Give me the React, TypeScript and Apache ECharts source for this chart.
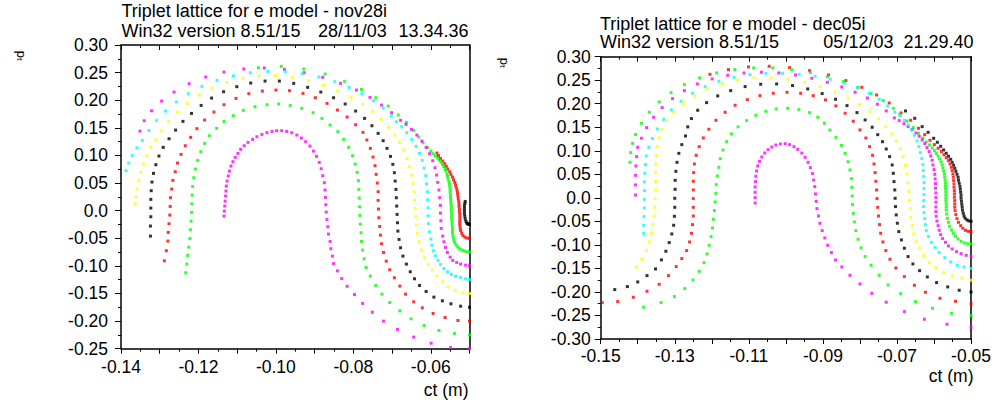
import React, { useEffect, useRef } from "react";
import * as echarts from "echarts";

// ---------- Left panel (nov28i): trajectories in (ct, pt), named by starting pt ----------
const nov_p025 = [[-0.050,-0.025],[-0.0501,-0.0249],[-0.0503,-0.0243],[-0.0505,-0.0236],[-0.0507,-0.0225],[-0.0509,-0.0195],[-0.0511,-0.0153],[-0.0512,-0.0105],[-0.0513,-0.0056],[-0.0513,-0.0008],[-0.0513,0.0040],[-0.0513,0.0089],[-0.0512,0.0131],[-0.0511,0.0167]];
const nov_p050 = [[-0.050,-0.050],[-0.0506,-0.0497],[-0.0512,-0.0479],[-0.0517,-0.0449],[-0.0520,-0.0407],[-0.0523,-0.0358],[-0.0524,-0.0310],[-0.0525,-0.0262],[-0.0525,-0.0213],[-0.0525,-0.0165],[-0.0525,-0.0117],[-0.0525,-0.0068],[-0.0526,-0.0020],[-0.0526,0.0028],[-0.0527,0.0077],[-0.0527,0.0125],[-0.0528,0.0173],[-0.0529,0.0222],[-0.0530,0.0270],[-0.0531,0.0318],[-0.0532,0.0367],[-0.0534,0.0415],[-0.0536,0.0463],[-0.0538,0.0512],[-0.0541,0.0560],[-0.0544,0.0608],[-0.0548,0.0657],[-0.0551,0.0705],[-0.0556,0.0753],[-0.0560,0.0802],[-0.0564,0.0850],[-0.0569,0.0898],[-0.0575,0.0946],[-0.0580,0.0995],[-0.0584,0.1043]];
const nov_p075 = [[-0.050,-0.075],[-0.0506,-0.0745],[-0.0513,-0.0733],[-0.0519,-0.0715],[-0.0525,-0.0691],[-0.0530,-0.0660],[-0.0534,-0.0624],[-0.0538,-0.0582],[-0.0540,-0.0540],[-0.0542,-0.0491],[-0.0543,-0.0443],[-0.0544,-0.0394],[-0.0544,-0.0346],[-0.0544,-0.0298],[-0.0545,-0.0250],[-0.0545,-0.0201],[-0.0546,-0.0153],[-0.0546,-0.0105],[-0.0546,-0.0056],[-0.0547,-0.0008],[-0.0547,0.0040],[-0.0547,0.0089],[-0.0548,0.0137],[-0.0548,0.0185],[-0.0549,0.0234],[-0.0549,0.0282],[-0.0550,0.0330],[-0.0550,0.0379],[-0.0551,0.0427],[-0.0552,0.0475],[-0.0553,0.0524],[-0.0555,0.0572],[-0.0557,0.0620],[-0.0558,0.0669],[-0.0561,0.0717],[-0.0563,0.0759],[-0.0567,0.0802],[-0.0570,0.0844],[-0.0574,0.0880],[-0.0578,0.0916],[-0.0582,0.0953],[-0.0588,0.0989],[-0.0594,0.1031],[-0.0600,0.1079],[-0.0609,0.1140],[-0.0620,0.1230],[-0.0631,0.1333],[-0.0644,0.1454],[-0.0663,0.1599],[-0.0684,0.1732],[-0.0710,0.1894],[-0.0742,0.2045],[-0.0779,0.2196],[-0.0823,0.2341],[-0.0873,0.2474],[-0.0928,0.2565],[-0.0986,0.2613],[-0.1045,0.2589]];
const nov_p100 = [[-0.050,-0.100],[-0.0510,-0.0987],[-0.0523,-0.0968],[-0.0533,-0.0938],[-0.0543,-0.0902],[-0.0550,-0.0842],[-0.0557,-0.0757],[-0.0562,-0.0666],[-0.0566,-0.0564],[-0.0569,-0.0461],[-0.0573,-0.0322],[-0.0574,-0.0183],[-0.0575,-0.0044],[-0.0575,0.0095],[-0.0577,0.0234],[-0.0579,0.0373],[-0.0582,0.0512],[-0.0585,0.0644],[-0.0589,0.0777],[-0.0595,0.0904],[-0.0603,0.1031],[-0.0612,0.1146],[-0.0623,0.1260],[-0.0636,0.1369],[-0.0650,0.1472],[-0.0664,0.1562],[-0.0678,0.1635],[-0.0701,0.1774],[-0.0727,0.1912],[-0.0757,0.2051],[-0.0792,0.2184],[-0.0833,0.2305],[-0.0879,0.2414],[-0.0927,0.2498],[-0.0978,0.2559],[-0.1030,0.2583],[-0.1083,0.2565],[-0.1134,0.2510],[-0.1181,0.2420],[-0.1224,0.2299],[-0.1263,0.2148],[-0.1295,0.1985],[-0.1321,0.1810],[-0.1340,0.1628],[-0.1351,0.1441]];
const nov_p125 = [[-0.050,-0.125],[-0.0510,-0.1234],[-0.0523,-0.1210],[-0.0536,-0.1186],[-0.0547,-0.1156],[-0.0557,-0.1107],[-0.0566,-0.1047],[-0.0575,-0.0975],[-0.0581,-0.0902],[-0.0588,-0.0817],[-0.0593,-0.0727],[-0.0597,-0.0624],[-0.0600,-0.0515],[-0.0604,-0.0382],[-0.0606,-0.0237],[-0.0607,-0.0092],[-0.0607,0.0053],[-0.0608,0.0197],[-0.0609,0.0342],[-0.0611,0.0487],[-0.0613,0.0632],[-0.0617,0.0771],[-0.0622,0.0910],[-0.0629,0.1037],[-0.0638,0.1164],[-0.0649,0.1291],[-0.0662,0.1411],[-0.0675,0.1520],[-0.0689,0.1611],[-0.0702,0.1719],[-0.0723,0.1858],[-0.0748,0.1991],[-0.0778,0.2118],[-0.0811,0.2232],[-0.0848,0.2335],[-0.0889,0.2420],[-0.0932,0.2480],[-0.0976,0.2516],[-0.1021,0.2522],[-0.1066,0.2498],[-0.1110,0.2444],[-0.1152,0.2359],[-0.1191,0.2251],[-0.1226,0.2118],[-0.1257,0.1967],[-0.1285,0.1804],[-0.1308,0.1635],[-0.1328,0.1453],[-0.1345,0.1272],[-0.1359,0.1140],[-0.1371,0.1001],[-0.1380,0.0862],[-0.1387,0.0723]];
const nov_p150 = [[-0.050,-0.150],[-0.0517,-0.1488],[-0.0537,-0.1446],[-0.0555,-0.1379],[-0.0569,-0.1289],[-0.0584,-0.1186],[-0.0596,-0.1077],[-0.0607,-0.0975],[-0.0616,-0.0853],[-0.0624,-0.0714],[-0.0630,-0.0563],[-0.0635,-0.0412],[-0.0637,-0.0261],[-0.0639,-0.0110],[-0.0640,0.0041],[-0.0642,0.0192],[-0.0643,0.0343],[-0.0646,0.0494],[-0.0649,0.0645],[-0.0655,0.0796],[-0.0661,0.0947],[-0.0670,0.1098],[-0.0681,0.1237],[-0.0693,0.1369],[-0.0709,0.1508],[-0.0728,0.1653],[-0.0750,0.1792],[-0.0776,0.1925],[-0.0806,0.2051],[-0.0840,0.2166],[-0.0877,0.2269],[-0.0916,0.2353],[-0.0958,0.2414],[-0.1001,0.2444],[-0.1044,0.2438],[-0.1086,0.2396],[-0.1127,0.2323],[-0.1165,0.2220],[-0.1198,0.2094],[-0.1229,0.1943],[-0.1254,0.1786],[-0.1277,0.1617],[-0.1295,0.1447],[-0.1310,0.1284],[-0.1323,0.1146],[-0.1334,0.0995],[-0.1342,0.0844],[-0.1349,0.0693],[-0.1354,0.0542],[-0.1359,0.0391],[-0.1361,0.0252],[-0.1363,0.0119]];
const nov_p175 = [[-0.050,-0.175],[-0.0523,-0.1730],[-0.0548,-0.1687],[-0.0570,-0.1633],[-0.0592,-0.1566],[-0.0612,-0.1464],[-0.0629,-0.1355],[-0.0642,-0.1234],[-0.0653,-0.1107],[-0.0663,-0.0968],[-0.0672,-0.0823],[-0.0678,-0.0672],[-0.0682,-0.0521],[-0.0685,-0.0370],[-0.0686,-0.0219],[-0.0687,-0.0068],[-0.0688,0.0083],[-0.0689,0.0234],[-0.0690,0.0385],[-0.0692,0.0536],[-0.0694,0.0687],[-0.0698,0.0838],[-0.0704,0.0983],[-0.0713,0.1128],[-0.0723,0.1267],[-0.0736,0.1400],[-0.0752,0.1538],[-0.0771,0.1671],[-0.0794,0.1804],[-0.0821,0.1931],[-0.0851,0.2045],[-0.0884,0.2148],[-0.0918,0.2233],[-0.0954,0.2305],[-0.0991,0.2347],[-0.1028,0.2347],[-0.1065,0.2311],[-0.1101,0.2245],[-0.1135,0.2154],[-0.1166,0.2039],[-0.1193,0.1906],[-0.1218,0.1761],[-0.1240,0.1617],[-0.1259,0.1459],[-0.1276,0.1302],[-0.1291,0.1146],[-0.1302,0.0989],[-0.1310,0.0832],[-0.1316,0.0675],[-0.1320,0.0518],[-0.1322,0.0361],[-0.1323,0.0204],[-0.1323,0.0047],[-0.1323,-0.0110],[-0.1324,-0.0279],[-0.1324,-0.0461]];
const nov_p200 = [[-0.050,-0.200],[-0.0530,-0.1989],[-0.0563,-0.1935],[-0.0594,-0.1862],[-0.0622,-0.1760],[-0.0644,-0.1651],[-0.0665,-0.1512],[-0.0680,-0.1367],[-0.0694,-0.1216],[-0.0706,-0.1071],[-0.0715,-0.0914],[-0.0722,-0.0757],[-0.0727,-0.0600],[-0.0730,-0.0443],[-0.0732,-0.0286],[-0.0734,-0.0129],[-0.0735,0.0029],[-0.0736,0.0186],[-0.0736,0.0343],[-0.0738,0.0500],[-0.0741,0.0657],[-0.0744,0.0814],[-0.0749,0.0971],[-0.0756,0.1128],[-0.0765,0.1279],[-0.0775,0.1418],[-0.0794,0.1556],[-0.0816,0.1695],[-0.0841,0.1822],[-0.0868,0.1943],[-0.0898,0.2045],[-0.0930,0.2124],[-0.0965,0.2172],[-0.1000,0.2184],[-0.1035,0.2166],[-0.1070,0.2118],[-0.1103,0.2033],[-0.1134,0.1919],[-0.1160,0.1786],[-0.1184,0.1641],[-0.1204,0.1484],[-0.1220,0.1327],[-0.1234,0.1176],[-0.1245,0.1019],[-0.1254,0.0862],[-0.1260,0.0705],[-0.1266,0.0548],[-0.1269,0.0391],[-0.1272,0.0234],[-0.1273,0.0077],[-0.1274,-0.0080],[-0.1276,-0.0237],[-0.1278,-0.0394],[-0.1279,-0.0551],[-0.1283,-0.0726],[-0.1288,-0.0908]];
const nov_p225 = [[-0.050,-0.225],[-0.0539,-0.2225],[-0.0579,-0.2170],[-0.0617,-0.2080],[-0.0651,-0.1959],[-0.0680,-0.1814],[-0.0706,-0.1663],[-0.0726,-0.1512],[-0.0742,-0.1355],[-0.0756,-0.1186],[-0.0767,-0.1029],[-0.0772,-0.0871],[-0.0776,-0.0714],[-0.0779,-0.0557],[-0.0780,-0.0400],[-0.0782,-0.0243],[-0.0783,-0.0086],[-0.0784,0.0071],[-0.0785,0.0228],[-0.0786,0.0385],[-0.0787,0.0542],[-0.0790,0.0693],[-0.0795,0.0844],[-0.0802,0.0995],[-0.0812,0.1146],[-0.0825,0.1291],[-0.0840,0.1430],[-0.0860,0.1550],[-0.0881,0.1671],[-0.0904,0.1774],[-0.0933,0.1852],[-0.0963,0.1906],[-0.0993,0.1931],[-0.1023,0.1919],[-0.1054,0.1882],[-0.1084,0.1816],[-0.1110,0.1719],[-0.1134,0.1617],[-0.1153,0.1490],[-0.1172,0.1357],[-0.1184,0.1218],[-0.1194,0.1067],[-0.1202,0.0910],[-0.1208,0.0753],[-0.1212,0.0596],[-0.1215,0.0439],[-0.1216,0.0282],[-0.1217,0.0125],[-0.1218,-0.0032],[-0.1219,-0.0189],[-0.1221,-0.0346],[-0.1222,-0.0503],[-0.1225,-0.0660],[-0.1228,-0.0811],[-0.1230,-0.0968],[-0.1233,-0.1125]];
const nov_p250 = [[-0.050,-0.250],[-0.0549,-0.248],[-0.0599,-0.240],[-0.0644,-0.229],[-0.0686,-0.215],[-0.0722,-0.200],[-0.0751,-0.184],[-0.0776,-0.168],[-0.0797,-0.152],[-0.0816,-0.137],[-0.0830,-0.123],[-0.0841,-0.109],[-0.0851,-0.096],[-0.0854,-0.0823],[-0.0858,-0.0690],[-0.0860,-0.0557],[-0.0864,-0.0424],[-0.0866,-0.0292],[-0.0868,-0.0159],[-0.0870,-0.0026],[-0.0871,0.0107],[-0.0872,0.0240],[-0.0873,0.0373],[-0.0875,0.0506],[-0.0879,0.0633],[-0.0883,0.0759],[-0.0888,0.0874],[-0.0895,0.0983],[-0.0903,0.1079],[-0.0912,0.1170],[-0.0923,0.1249],[-0.0934,0.1315],[-0.0946,0.1369],[-0.0959,0.1412],[-0.0972,0.1436],[-0.0985,0.1448],[-0.0998,0.1448],[-0.1010,0.1436],[-0.1023,0.1412],[-0.1036,0.1381],[-0.1049,0.1339],[-0.1060,0.1291],[-0.1072,0.1237],[-0.1082,0.1176],[-0.1091,0.1110],[-0.1098,0.1037],[-0.1105,0.0965],[-0.1111,0.0886],[-0.1116,0.0808],[-0.1120,0.0717],[-0.1123,0.0627],[-0.1126,0.0536],[-0.1128,0.0445],[-0.1129,0.0355],[-0.1130,0.0264],[-0.1131,0.0173],[-0.1132,0.0083],[-0.1133,-0.0008],[-0.1134,-0.0098]];

// ---------- Right panel (dec05i) ----------
const dec_p050 = [[-0.050,-0.050],[-0.0506,-0.0490],[-0.0511,-0.0469],[-0.0516,-0.0433],[-0.0519,-0.0384],[-0.0521,-0.0327],[-0.0523,-0.0263],[-0.0524,-0.0199],[-0.0525,-0.0136],[-0.0526,-0.0072],[-0.0527,-0.0008],[-0.0527,0.0055],[-0.0528,0.0119],[-0.0529,0.0183],[-0.0530,0.0246],[-0.0532,0.0310],[-0.0534,0.0374],[-0.0535,0.0438],[-0.0538,0.0501],[-0.0541,0.0565],[-0.0544,0.0629],[-0.0547,0.0693],[-0.0551,0.0756],[-0.0555,0.0820],[-0.0561,0.0884],[-0.0567,0.0947],[-0.0574,0.1018],[-0.0582,0.1096],[-0.0591,0.1181],[-0.0601,0.1266],[-0.0616,0.1393],[-0.0632,0.1514],[-0.0652,0.1691],[-0.0677,0.1847]];
const dec_p075 = [[-0.050,-0.072],[-0.0507,-0.0711],[-0.0515,-0.0690],[-0.0522,-0.0647],[-0.0528,-0.0591],[-0.0534,-0.0520],[-0.0538,-0.0442],[-0.0541,-0.0357],[-0.0543,-0.0272],[-0.0544,-0.0199],[-0.0544,-0.0129],[-0.0544,-0.0058],[-0.0545,0.0013],[-0.0545,0.0084],[-0.0545,0.0154],[-0.0546,0.0225],[-0.0546,0.0296],[-0.0547,0.0367],[-0.0548,0.0438],[-0.0549,0.0508],[-0.0551,0.0579],[-0.0553,0.0650],[-0.0557,0.0721],[-0.0561,0.0792],[-0.0567,0.0855],[-0.0573,0.0919],[-0.0580,0.0983],[-0.0589,0.1054],[-0.0599,0.1131],[-0.0611,0.1224],[-0.0625,0.1344],[-0.0642,0.1479],[-0.0663,0.1648],[-0.0689,0.1804],[-0.0721,0.2017],[-0.0755,0.2187],[-0.0795,0.2350],[-0.0838,0.2492],[-0.0885,0.2612],[-0.0936,0.2704],[-0.0990,0.2768],[-0.1045,0.2796],[-0.1101,0.2782],[-0.1155,0.2725],[-0.1205,0.2626]];
const dec_p100 = [[-0.050,-0.098],[-0.0509,-0.0973],[-0.0518,-0.0959],[-0.0527,-0.0924],[-0.0535,-0.0874],[-0.0542,-0.0817],[-0.0548,-0.0754],[-0.0553,-0.0683],[-0.0558,-0.0605],[-0.0561,-0.0520],[-0.0564,-0.0435],[-0.0566,-0.0343],[-0.0567,-0.0258],[-0.0567,-0.0192],[-0.0567,-0.0129],[-0.0568,-0.0065],[-0.0568,-0.0001],[-0.0568,0.0062],[-0.0568,0.0126],[-0.0569,0.0190],[-0.0569,0.0254],[-0.0569,0.0317],[-0.0570,0.0381],[-0.0571,0.0445],[-0.0572,0.0508],[-0.0574,0.0572],[-0.0576,0.0636],[-0.0578,0.0700],[-0.0581,0.0763],[-0.0585,0.0827],[-0.0589,0.0891],[-0.0594,0.0947],[-0.0599,0.1004],[-0.0605,0.1061],[-0.0612,0.1124],[-0.0621,0.1188],[-0.0630,0.1273],[-0.0642,0.1372],[-0.0656,0.1493],[-0.0673,0.1634],[-0.0692,0.1776],[-0.0710,0.1903],[-0.0737,0.2067],[-0.0770,0.2216],[-0.0805,0.2350],[-0.0845,0.2470],[-0.0888,0.2577],[-0.0934,0.2662],[-0.0984,0.2725],[-0.1035,0.2761],[-0.1087,0.2761],[-0.1138,0.2725],[-0.1187,0.2655],[-0.1233,0.2548],[-0.1274,0.2407],[-0.1310,0.2237],[-0.1342,0.2039],[-0.1369,0.1819],[-0.1390,0.1585],[-0.1406,0.1345],[-0.1414,0.1159],[-0.1419,0.0961],[-0.1421,0.0755]];
const dec_p125 = [[-0.050,-0.125],[-0.0513,-0.1221],[-0.0527,-0.1185],[-0.0539,-0.1143],[-0.0551,-0.1086],[-0.0561,-0.1023],[-0.0569,-0.0945],[-0.0577,-0.0867],[-0.0582,-0.0782],[-0.0586,-0.0690],[-0.0589,-0.0591],[-0.0592,-0.0492],[-0.0594,-0.0393],[-0.0595,-0.0293],[-0.0595,-0.0193],[-0.0595,-0.0093],[-0.0595,0.0006],[-0.0595,0.0105],[-0.0596,0.0204],[-0.0596,0.0303],[-0.0597,0.0402],[-0.0598,0.0501],[-0.0600,0.0600],[-0.0603,0.0700],[-0.0605,0.0799],[-0.0609,0.0891],[-0.0613,0.0983],[-0.0619,0.1068],[-0.0625,0.1153],[-0.0632,0.1231],[-0.0640,0.1309],[-0.0649,0.1379],[-0.0659,0.1450],[-0.0670,0.1514],[-0.0681,0.1578],[-0.0694,0.1641],[-0.0707,0.1698],[-0.0729,0.1847],[-0.0753,0.1989],[-0.0780,0.2123],[-0.0813,0.2244],[-0.0849,0.2357],[-0.0888,0.2456],[-0.0930,0.2541],[-0.0974,0.2612],[-0.1019,0.2655],[-0.1066,0.2669],[-0.1113,0.2655],[-0.1157,0.2605],[-0.1199,0.2527],[-0.1239,0.2421],[-0.1274,0.2279],[-0.1306,0.2109],[-0.1334,0.1918],[-0.1357,0.1713],[-0.1376,0.1493],[-0.1390,0.1267],[-0.1400,0.1074],[-0.1403,0.0876],[-0.1405,0.0677],[-0.1406,0.0479],[-0.1406,0.0274],[-0.1406,0.0061]];
const dec_p150 = [[-0.050,-0.150],[-0.0519,-0.1469],[-0.0537,-0.1433],[-0.0555,-0.1362],[-0.0571,-0.1270],[-0.0586,-0.1164],[-0.0597,-0.1051],[-0.0607,-0.0945],[-0.0615,-0.0824],[-0.0621,-0.0697],[-0.0623,-0.0570],[-0.0625,-0.0442],[-0.0627,-0.0315],[-0.0628,-0.0185],[-0.0628,-0.0058],[-0.0627,0.0069],[-0.0627,0.0197],[-0.0627,0.0324],[-0.0628,0.0452],[-0.0629,0.0579],[-0.0630,0.0707],[-0.0633,0.0834],[-0.0637,0.0962],[-0.0641,0.1089],[-0.0646,0.1209],[-0.0653,0.1330],[-0.0661,0.1443],[-0.0670,0.1549],[-0.0680,0.1648],[-0.0692,0.1740],[-0.0706,0.1825],[-0.0725,0.1954],[-0.0748,0.2095],[-0.0775,0.2223],[-0.0807,0.2336],[-0.0841,0.2435],[-0.0880,0.2520],[-0.0921,0.2584],[-0.0964,0.2626],[-0.1009,0.2647],[-0.1054,0.2647],[-0.1097,0.2619],[-0.1140,0.2562],[-0.1181,0.2478],[-0.1218,0.2364],[-0.1252,0.2223],[-0.1283,0.2053],[-0.1309,0.1869],[-0.1330,0.1670],[-0.1347,0.1465],[-0.1360,0.1260],[-0.1370,0.1074],[-0.1377,0.0890],[-0.1379,0.0706],[-0.1381,0.0522],[-0.1382,0.0338],[-0.1382,0.0153],[-0.1382,-0.0031],[-0.1382,-0.0215],[-0.1383,-0.0399],[-0.1384,-0.0583],[-0.1384,-0.0753]];
const dec_p175 = [[-0.050,-0.175],[-0.0525,-0.1709],[-0.0551,-0.1660],[-0.0574,-0.1582],[-0.0595,-0.1483],[-0.0613,-0.1370],[-0.0628,-0.1228],[-0.0639,-0.1072],[-0.0648,-0.0924],[-0.0655,-0.0768],[-0.0659,-0.0591],[-0.0663,-0.0414],[-0.0664,-0.0229],[-0.0666,-0.0045],[-0.0668,0.0139],[-0.0670,0.0323],[-0.0673,0.0507],[-0.0677,0.0692],[-0.0683,0.0876],[-0.0691,0.1046],[-0.0702,0.1208],[-0.0714,0.1357],[-0.0730,0.1515],[-0.0750,0.1677],[-0.0773,0.1833],[-0.0801,0.1982],[-0.0832,0.2123],[-0.0868,0.2251],[-0.0908,0.2364],[-0.0950,0.2456],[-0.0994,0.2520],[-0.1040,0.2555],[-0.1086,0.2548],[-0.1130,0.2506],[-0.1172,0.2428],[-0.1212,0.2315],[-0.1247,0.2173],[-0.1277,0.2003],[-0.1303,0.1819],[-0.1321,0.1642],[-0.1334,0.1458],[-0.1342,0.1274],[-0.1347,0.1088],[-0.1350,0.0904],[-0.1351,0.0720],[-0.1352,0.0536],[-0.1352,0.0352],[-0.1352,0.0168],[-0.1353,-0.0016],[-0.1354,-0.0201],[-0.1356,-0.0385],[-0.1359,-0.0569],[-0.1363,-0.0753],[-0.1369,-0.0937],[-0.1377,-0.1121],[-0.1389,-0.1305],[-0.1404,-0.1475]];
const dec_p200 = [[-0.050,-0.200],[-0.0532,-0.1964],[-0.0563,-0.1893],[-0.0593,-0.1801],[-0.0618,-0.1681],[-0.0639,-0.1547],[-0.0657,-0.1405],[-0.0670,-0.1248],[-0.0680,-0.1071],[-0.0688,-0.0894],[-0.0695,-0.0717],[-0.0699,-0.0540],[-0.0702,-0.0363],[-0.0704,-0.0186],[-0.0705,-0.0009],[-0.0706,0.0168],[-0.0708,0.0345],[-0.0710,0.0522],[-0.0713,0.0699],[-0.0720,0.0876],[-0.0729,0.1038],[-0.0739,0.1194],[-0.0752,0.1343],[-0.0767,0.1501],[-0.0786,0.1656],[-0.0808,0.1812],[-0.0835,0.1961],[-0.0866,0.2095],[-0.0902,0.2216],[-0.0941,0.2315],[-0.0982,0.2386],[-0.1025,0.2421],[-0.1068,0.2414],[-0.1110,0.2364],[-0.1149,0.2279],[-0.1184,0.2166],[-0.1214,0.2024],[-0.1238,0.1862],[-0.1255,0.1685],[-0.1265,0.1508],[-0.1271,0.1315],[-0.1281,0.1131],[-0.1289,0.0946],[-0.1294,0.0755],[-0.1297,0.0564],[-0.1299,0.0373],[-0.1299,0.0182],[-0.1300,-0.0009],[-0.1300,-0.0201],[-0.1301,-0.0392],[-0.1303,-0.0583],[-0.1308,-0.0767],[-0.1315,-0.0951],[-0.1324,-0.1135],[-0.1336,-0.1319],[-0.1352,-0.1511],[-0.1375,-0.1653],[-0.1400,-0.1787],[-0.1428,-0.1886],[-0.1462,-0.1950]];
const dec_p225 = [[-0.050,-0.225],[-0.0542,-0.2198],[-0.0584,-0.2134],[-0.0623,-0.2007],[-0.0653,-0.1858],[-0.0680,-0.1674],[-0.0703,-0.1490],[-0.0719,-0.1305],[-0.0730,-0.1121],[-0.0738,-0.0937],[-0.0744,-0.0753],[-0.0747,-0.0569],[-0.0750,-0.0385],[-0.0752,-0.0201],[-0.0754,-0.0016],[-0.0755,0.0168],[-0.0757,0.0352],[-0.0759,0.0536],[-0.0762,0.0720],[-0.0766,0.0904],[-0.0774,0.1088],[-0.0784,0.1272],[-0.0800,0.1444],[-0.0818,0.1628],[-0.0840,0.1798],[-0.0865,0.1954],[-0.0893,0.2081],[-0.0926,0.2173],[-0.0960,0.2223],[-0.0997,0.2244],[-0.1034,0.2223],[-0.1070,0.2173],[-0.1104,0.2088],[-0.1137,0.1968],[-0.1164,0.1819],[-0.1189,0.1649],[-0.1208,0.1458],[-0.1223,0.1274],[-0.1234,0.1088],[-0.1242,0.0904],[-0.1247,0.0720],[-0.1249,0.0536],[-0.1250,0.0352],[-0.1250,0.0168],[-0.1250,-0.0016],[-0.1250,-0.0201],[-0.1250,-0.0385],[-0.1252,-0.0569],[-0.1255,-0.0753],[-0.1260,-0.0937],[-0.1268,-0.1121],[-0.1281,-0.1291],[-0.1296,-0.1461],[-0.1317,-0.1653],[-0.1342,-0.1837],[-0.1375,-0.1986],[-0.1412,-0.2113],[-0.1454,-0.2205],[-0.1496,-0.2226]];
const dec_p250 = [[-0.050,-0.250],[-0.0553,-0.2453],[-0.0604,-0.2347],[-0.0650,-0.2205],[-0.0690,-0.2035],[-0.0724,-0.1851],[-0.0748,-0.1646],[-0.0770,-0.1433],[-0.0786,-0.1248],[-0.0797,-0.1064],[-0.0805,-0.0880],[-0.0811,-0.0696],[-0.0815,-0.0512],[-0.0818,-0.0328],[-0.0820,-0.0144],[-0.0821,0.0040],[-0.0822,0.0224],[-0.0823,0.0408],[-0.0827,0.0592],[-0.0832,0.0769],[-0.0840,0.0946],[-0.0850,0.1116],[-0.0865,0.1286],[-0.0881,0.1442],[-0.0896,0.1585],[-0.0914,0.1713],[-0.0936,0.1812],[-0.0965,0.1876],[-0.0995,0.1904],[-0.1026,0.1890],[-0.1054,0.1840],[-0.1081,0.1755],[-0.1106,0.1642],[-0.1129,0.1508],[-0.1147,0.1359],[-0.1160,0.1194],[-0.1170,0.1017],[-0.1177,0.0833],[-0.1181,0.0649],[-0.1185,0.0465],[-0.1188,0.0281],[-0.1189,0.0097],[-0.1191,-0.0087],[-0.1193,-0.0271],[-0.1196,-0.0455],[-0.1198,-0.0640],[-0.1202,-0.0824],[-0.1207,-0.1008],[-0.1213,-0.1192],[-0.1221,-0.1376],[-0.1234,-0.1561],[-0.1251,-0.1745],[-0.1273,-0.1929],[-0.1301,-0.2099],[-0.1337,-0.2226],[-0.1384,-0.2325]];
const dec_p275 = [[-0.050,-0.275],[-0.0565,-0.2686],[-0.0626,-0.2580],[-0.0680,-0.2417],[-0.0729,-0.2219],[-0.0768,-0.2028],[-0.0800,-0.1830],[-0.0827,-0.1646],[-0.0849,-0.1469],[-0.0866,-0.1320],[-0.0877,-0.1163],[-0.0887,-0.1008],[-0.0895,-0.0852],[-0.0902,-0.0696],[-0.0908,-0.0540],[-0.0912,-0.0385],[-0.0916,-0.0229],[-0.0918,-0.0073],[-0.0920,0.0083],[-0.0922,0.0238],[-0.0925,0.0380],[-0.0928,0.0515],[-0.0934,0.0642],[-0.0940,0.0755],[-0.0948,0.0861],[-0.0957,0.0953],[-0.0968,0.1031],[-0.0978,0.1088],[-0.0990,0.1131],[-0.1002,0.1152],[-0.1015,0.1145],[-0.1027,0.1123],[-0.1038,0.1081],[-0.1048,0.1024],[-0.1057,0.0953],[-0.1065,0.0869],[-0.1071,0.0776],[-0.1076,0.0677],[-0.1079,0.0571],[-0.1081,0.0458],[-0.1082,0.0345],[-0.1083,0.0231],[-0.1083,0.0118],[-0.1083,0.0005],[-0.1083,-0.0109]];

// ---------- Tick labels ----------
const novXLabels = ["-0.14", "-0.12", "-0.10", "-0.08", "-0.06"];
const novYLabels = ["0.30", "0.25", "0.20", "0.15", "0.10", "0.05", "0.0", "-0.05", "-0.10", "-0.15", "-0.20", "-0.25"];
const decXLabels = ["-0.15", "-0.13", "-0.11", "-0.09", "-0.07", "-0.05"];
const decYLabels = ["0.30", "0.25", "0.20", "0.15", "0.10", "0.05", "0.0", "-0.05", "-0.10", "-0.15", "-0.20", "-0.25", "-0.30"];

const BLACK = "#000000", RED = "#ff0000", GREEN = "#00ff00", MAGENTA = "#ff00ff", CYAN = "#00ffff", YELLOW = "#ffff00";

const novSeries: [number[][], string][] = [
  [nov_p025, BLACK], [nov_p050, RED], [nov_p075, GREEN], [nov_p100, MAGENTA], [nov_p125, CYAN],
  [nov_p150, YELLOW], [nov_p175, BLACK], [nov_p200, RED], [nov_p225, GREEN], [nov_p250, MAGENTA],
];
const decSeries: [number[][], string][] = [
  [dec_p050, BLACK], [dec_p075, RED], [dec_p100, GREEN], [dec_p125, MAGENTA], [dec_p150, CYAN],
  [dec_p175, YELLOW], [dec_p200, BLACK], [dec_p225, RED], [dec_p250, GREEN], [dec_p275, MAGENTA],
];

const FONT = "'Liberation Sans', Arial, sans-serif";
const LABEL_SIZE = 17.5;
const TITLE_SIZE = 18;

function fmtX(labels: string[]) {
  return (v: number) => {
    const s = (Math.abs(v) < 1e-9 ? 0 : v).toFixed(2);
    return labels.indexOf(s) >= 0 ? s : "";
  };
}
function fmtY(labels: string[]) {
  return (v: number) => {
    const s = Math.abs(v) < 1e-9 ? "0.0" : v.toFixed(2);
    return labels.indexOf(s) >= 0 ? s : "";
  };
}

const axisLine = { show: true, onZero: false, lineStyle: { color: "#000", width: 1.5 } };
const tickStyle = { color: "#000", width: 1 };

function xPair(gridIndex: number, min: number, max: number, labels: string[], margin: number) {
  return [
    {
      type: "value", gridIndex, position: "bottom", min, max, interval: 0.01,
      axisLine, splitLine: { show: false }, minorSplitLine: { show: false },
      axisTick: { show: true, inside: false, length: 5, lineStyle: tickStyle },
      minorTick: { show: true, splitNumber: 2, length: 3, lineStyle: tickStyle },
      axisLabel: { show: true, margin, color: "#000", fontSize: LABEL_SIZE, fontFamily: FONT, formatter: fmtX(labels), showMinLabel: true, showMaxLabel: true, hideOverlap: false },
    },
    {
      type: "value", gridIndex, position: "top", min, max, interval: 0.01,
      axisLine, splitLine: { show: false }, minorSplitLine: { show: false },
      axisTick: { show: true, inside: true, length: 5, lineStyle: tickStyle },
      minorTick: { show: true, splitNumber: 2, length: 3, lineStyle: tickStyle },
      axisLabel: { show: false },
    },
  ];
}
function yPair(gridIndex: number, min: number, max: number, labels: string[], margin: number) {
  return [
    {
      type: "value", gridIndex, position: "left", min, max, interval: 0.05,
      axisLine, splitLine: { show: false }, minorSplitLine: { show: false },
      axisTick: { show: true, inside: false, length: 6, lineStyle: tickStyle },
      minorTick: { show: true, splitNumber: 2, length: 3, lineStyle: tickStyle },
      axisLabel: { show: true, margin, color: "#000", fontSize: LABEL_SIZE, fontFamily: FONT, formatter: fmtY(labels), showMinLabel: true, showMaxLabel: true, hideOverlap: false },
    },
    {
      type: "value", gridIndex, position: "right", min, max, interval: 0.05,
      axisLine, splitLine: { show: false }, minorSplitLine: { show: false },
      axisTick: { show: false }, minorTick: { show: false }, axisLabel: { show: false },
    },
  ];
}

function textEl(text: string, x: number, y: number, align: string, size = TITLE_SIZE) {
  return {
    type: "text", x, y, silent: true,
    style: { text, fill: "#000", fontSize: size, fontFamily: FONT, textAlign: align, textVerticalAlign: "middle" },
  };
}

function buildOption() {
  const series: any[] = [];
  novSeries.forEach(([data, color]) => {
    series.push({ type: "scatter", xAxisIndex: 0, yAxisIndex: 0, data, symbol: "rect", symbolSize: 3, itemStyle: { color }, silent: true });
  });
  decSeries.forEach(([data, color]) => {
    series.push({ type: "scatter", xAxisIndex: 2, yAxisIndex: 2, data, symbol: "rect", symbolSize: 3, itemStyle: { color }, silent: true });
  });
  return {
    animation: false,
    backgroundColor: "#ffffff",
    grid: [
      { left: 121, top: 45, width: 348.5, height: 303.7 },
      { left: 600.7, top: 56.7, width: 372.6, height: 282.3 },
    ],
    xAxis: [...xPair(0, -0.14, -0.05, novXLabels, 9), ...xPair(1, -0.15, -0.05, decXLabels, 8)],
    yAxis: [...yPair(0, -0.25, 0.30, novYLabels, 13), ...yPair(1, -0.30, 0.30, decYLabels, 10)],
    series,
    graphic: [
      textEl("Triplet lattice for e model - nov28i", 121.5, 11, "left"),
      textEl("Win32 version 8.51/15", 121.5, 31, "left"),
      textEl("28/11/03", 318, 31, "left"),
      textEl("13.34.36", 468.5, 31, "right"),
      textEl("ct (m)", 468.5, 390, "right", LABEL_SIZE),
      textEl("Triplet lattice for e model - dec05i", 600, 23.5, "left"),
      textEl("Win32 version 8.51/15", 600, 42, "left"),
      textEl("05/12/03  21.29.40", 973.5, 42, "right"),
      textEl("ct (m)", 973.5, 375.5, "right", LABEL_SIZE),
      { type: "text", x: 21, y: 56, rotation: -Math.PI / 2, silent: true,
        style: { text: "p\u209C", fill: "#000", fontSize: 12, fontFamily: "'DejaVu Sans', sans-serif", textAlign: "center", textVerticalAlign: "middle" } },
      { type: "text", x: 504, y: 63, rotation: -Math.PI / 2, silent: true,
        style: { text: "p\u209C", fill: "#000", fontSize: 12, fontFamily: "'DejaVu Sans', sans-serif", textAlign: "center", textVerticalAlign: "middle" } },
    ],
  };
}

export default function App() {
  const ref = useRef<HTMLDivElement>(null);
  useEffect(() => {
    if (!ref.current) return;
    const chart = echarts.init(ref.current, null, { renderer: "svg" });
    chart.setOption(buildOption() as any);
    return () => chart.dispose();
  }, []);
  return <div ref={ref} style={{ position: "absolute", left: 0, top: 0, width: 994, height: 403, background: "#fff" }} />;
}
